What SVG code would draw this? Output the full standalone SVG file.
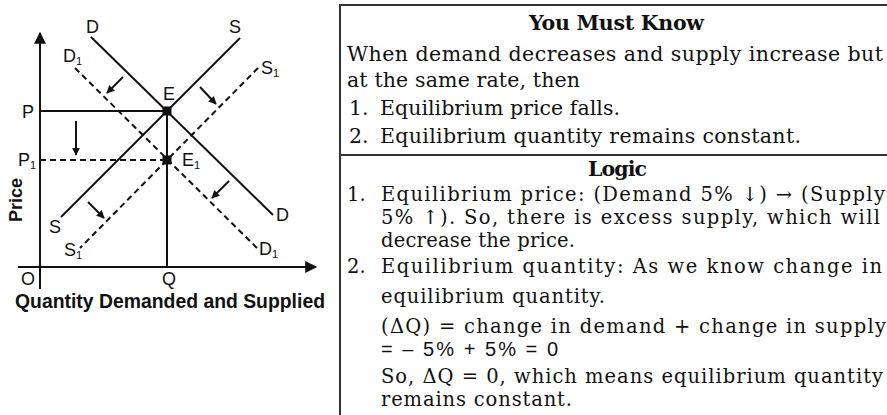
<svg xmlns="http://www.w3.org/2000/svg" width="887" height="415" viewBox="0 0 887 415">
<defs>
<style>
.ln{stroke:#111;stroke-width:2;fill:none}
.dash{stroke:#111;stroke-width:2;fill:none;stroke-dasharray:6 4}
.lb{font-family:"Liberation Sans",Arial,sans-serif;font-size:18px;fill:#111}
.tx{font-family:"DejaVu Serif",serif;font-size:20.5px;fill:#111}
.tl{font-family:"DejaVu Serif",serif;font-size:19.5px;fill:#111}
.hd{font-family:"DejaVu Serif",serif;font-size:20.5px;font-weight:bold;fill:#111}
.bx{stroke:#333;stroke-width:2;fill:none}
</style>
<marker id="ah" viewBox="0 0 10 10" refX="9" refY="5" markerUnits="userSpaceOnUse" markerWidth="8" markerHeight="8" orient="auto">
<path d="M0,0 L10,5 L0,10 z" fill="#111"/>
</marker>
<marker id="axh" viewBox="0 0 10 10" refX="9" refY="5" markerUnits="userSpaceOnUse" markerWidth="13" markerHeight="12" orient="auto">
<path d="M0,0 L10,5 L0,10 z" fill="#111"/>
</marker>
</defs>
<rect width="887" height="415" fill="#fff"/>

<g id="axes">
<line class="ln" x1="40" y1="289" x2="40" y2="33" marker-end="url(#axh)"/>
<line class="ln" x1="18" y1="267" x2="316" y2="267" marker-end="url(#axh)"/>
</g>

<g id="connectors">
<line id="curve-D" class="ln" x1="91" y1="37" x2="273" y2="215"/>
<line id="curve-S" class="ln" x1="240" y1="38" x2="61" y2="217"/>
<line id="curve-D1" class="dash" x1="75" y1="68" x2="258" y2="249"/>
<line id="curve-S1" class="dash" x1="258" y1="68" x2="80" y2="248"/>
<line id="guide-P" class="ln" x1="40" y1="111" x2="167" y2="111"/>
<line id="guide-P1" class="dash" x1="40" y1="160" x2="167" y2="160"/>
<line id="guide-Q" class="ln" x1="167" y1="111" x2="167" y2="267"/>
<line class="ln" x1="123" y1="77" x2="107" y2="93" marker-end="url(#ah)"/>
<line class="ln" x1="200" y1="87" x2="216" y2="104" marker-end="url(#ah)"/>
<line class="ln" x1="76" y1="121" x2="76" y2="155" marker-end="url(#ah)"/>
<line class="ln" x1="229" y1="181" x2="212" y2="198" marker-end="url(#ah)"/>
<line class="ln" x1="88" y1="202" x2="104" y2="218" marker-end="url(#ah)"/>
</g>

<g id="point-E">
<rect x="162.5" y="106.5" width="9" height="9" rx="2" fill="#111"/>
<text class="lb" x="169" y="100" text-anchor="middle">E</text>
</g>
<g id="point-E1">
<rect x="162.5" y="155.5" width="9" height="9" rx="1" fill="#111"/>
<text class="lb" x="182" y="166">E<tspan font-size="11" dy="3">1</tspan></text>
</g>

<g id="labels">
<text class="lb" x="86" y="33">D</text>
<text class="lb" x="229" y="33">S</text>
<text class="lb" x="63" y="62">D<tspan font-size="11" dy="3">1</tspan></text>
<text class="lb" x="261" y="74">S<tspan font-size="11" dy="3">1</tspan></text>
<text class="lb" x="22" y="118">P</text>
<text class="lb" x="18" y="166">P<tspan font-size="11" dy="3">1</tspan></text>
<text class="lb" x="49" y="233">S</text>
<text class="lb" x="64" y="256">S<tspan font-size="11" dy="3">1</tspan></text>
<text class="lb" x="276" y="221">D</text>
<text class="lb" x="259" y="255">D<tspan font-size="11" dy="3">1</tspan></text>
<text class="lb" x="28" y="285" text-anchor="middle">O</text>
<text class="lb" x="169" y="285" text-anchor="middle">Q</text>
<text class="lb" style="font-weight:bold" transform="translate(22,200) rotate(-90)" text-anchor="middle">Price</text>
<text class="lb" style="font-weight:bold;font-size:19.4px" x="15" y="308" textLength="310" lengthAdjust="spacingAndGlyphs">Quantity Demanded and Supplied</text>
</g>

<g id="panel">
<line class="bx" x1="340" y1="4" x2="340" y2="415"/>
<line class="bx" x1="339" y1="5" x2="887" y2="5"/>
<line class="bx" x1="339" y1="155" x2="887" y2="155"/>
</g>

<g id="must-know">
<text class="hd" x="529" y="30" textLength="175">You Must Know</text>
<text class="tx" x="347" y="61" textLength="536">When demand decreases and supply increase but</text>
<text class="tx" x="347" y="87" textLength="233">at the same rate, then</text>
<text class="tx" x="349" y="115">1.</text>
<text class="tx" x="380" y="115" textLength="240">Equilibrium price falls.</text>
<text class="tx" x="349" y="143">2.</text>
<text class="tx" x="380" y="143" textLength="421">Equilibrium quantity remains constant.</text>
</g>

<g id="logic">
<text class="hd" x="588" y="176" textLength="59">Logic</text>
<text class="tl" x="347" y="201">1.</text>
<text class="tl" x="381" y="201" textLength="504">Equilibrium price: (Demand 5% ↓) → (Supply</text>
<text class="tl" x="381" y="224" textLength="499">5% ↑). So, there is excess supply, which will</text>
<text class="tl" x="381" y="247" textLength="194">decrease the price.</text>
<text class="tl" x="347" y="273">2.</text>
<text class="tl" x="381" y="273" textLength="501">Equilibrium quantity: As we know change in</text>
<text class="tl" x="381" y="303" textLength="224">equilibrium quantity.</text>
<text class="tl" x="381" y="333" textLength="505">(ΔQ) = change in demand + change in supply</text>
<text class="lb" style="font-size:20px" x="381" y="356" textLength="177">= – 5% + 5% = 0</text>
<text class="tl" x="381" y="383" textLength="502">So, ΔQ = 0, which means equilibrium quantity</text>
<text class="tl" x="381" y="406" textLength="191">remains constant.</text>
</g>
</svg>
